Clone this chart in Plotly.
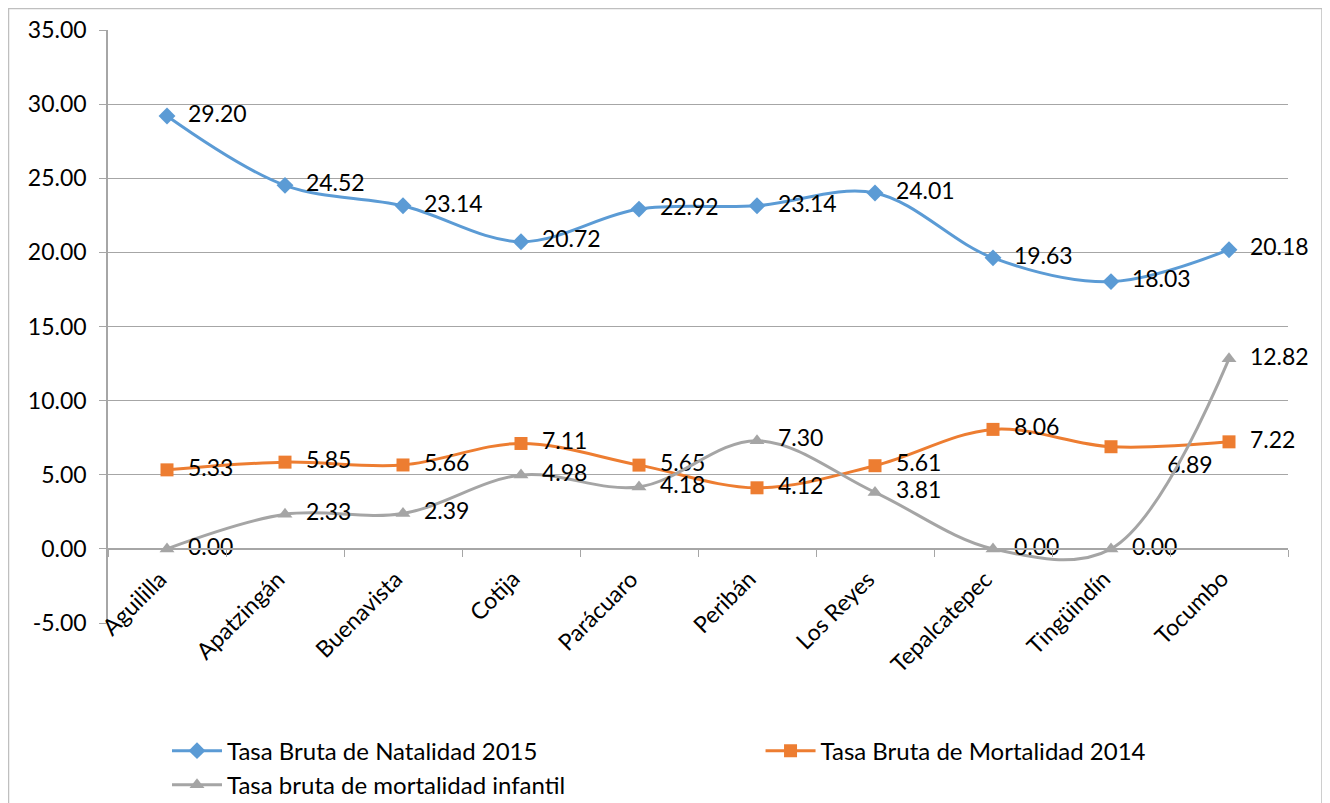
import plotly.graph_objects as go

municipios = ['Aguililla', 'Apatzingán', 'Buenavista', 'Cotija', 'Parácuaro',
              'Peribán', 'Los Reyes', 'Tepalcatepec', 'Tingüindín', 'Tocumbo']
natalidad = [29.20, 24.52, 23.14, 20.72, 22.92, 23.14, 24.01, 19.63, 18.03, 20.18]
mortalidad = [5.33, 5.85, 5.66, 7.11, 5.65, 4.12, 5.61, 8.06, 6.89, 7.22]
infantil = [0.00, 2.33, 2.39, 4.98, 4.18, 7.30, 3.81, 0.00, 0.00, 12.82]
y_ticks = [-5, 0, 5, 10, 15, 20, 25, 30, 35]
y_labels = ['-5.00', '0.00', '5.00', '10.00', '15.00', '20.00', '25.00', '30.00', '35.00']

FONT = 'Lato'
FS = 23
blue, orange, gray = '#5B9BD5', '#ED7D31', '#A5A5A5'

# the page body adds an 8px offset, so margins are shifted to compensate
L, T, W, H = 100, 22, 1180, 593

fig = go.Figure()

def serie(name, vals, color, symbol, legend, labels=None, positions=None):
    fig.add_trace(go.Scatter(
        x=municipios, y=vals, name=name, mode='lines+markers+text',
        line=dict(color=color, width=3, shape='spline', smoothing=1),
        marker=dict(symbol=symbol, size=13, color=color),
        text=labels or [f'  {v:.2f}' for v in vals],
        textposition=positions or 'middle right',
        textfont=dict(family=FONT, size=FS, color='black'),
        cliponaxis=False, legend=legend,
    ))

serie('Tasa Bruta de Natalidad 2015', natalidad, blue, 'diamond', 'legend')
lab_mort = [f'  {v:.2f}' for v in mortalidad]
lab_mort[8] = '        ' + f'{mortalidad[8]:.2f}'
pos_mort = ['middle right'] * len(mortalidad)
pos_mort[8] = 'bottom right'
serie('Tasa Bruta de Mortalidad 2014', mortalidad, orange, 'square', 'legend2',
      lab_mort, pos_mort)
serie('Tasa bruta de mortalidad infantil', infantil, gray, 'triangle-up', 'legend')

# category labels sit just under the zero line, rotated like Excel
for m in municipios:
    fig.add_annotation(x=m, y=0, xref='x', yref='y', text=m, showarrow=False,
                       textangle=-45, xanchor='right', yanchor='top',
                       xshift=7, yshift=-13,
                       font=dict(family=FONT, size=FS, color='black'))

# outer chart frame
fig.add_shape(type='rect', xref='paper', yref='paper',
              x0=(0.5 - L) / W, x1=(1314 - L) / W,
              y0=-(803 - T - H + 20) / H, y1=(T + H - 0.5) / H,
              line=dict(color='#BFBFBF', width=1.5), layer='below')

leg = dict(font=dict(family=FONT, size=24, color='black'), bgcolor='rgba(0,0,0,0)',
           itemwidth=50, yanchor='top', xanchor='left', tracegroupgap=0)
fig.update_layout(
    width=1330, height=803,
    margin=dict(l=L, r=1330 - L - W, t=T, b=803 - T - H, autoexpand=False),
    plot_bgcolor='white', paper_bgcolor='white',
    font=dict(family=FONT, size=FS, color='black'),
    showlegend=True,
    legend=dict(leg, x=0.05, y=-0.178),
    legend2=dict(leg, x=0.553, y=-0.178),
    xaxis=dict(type='category', range=[-0.5, 9.5], showgrid=False,
               showticklabels=False, showline=True, linecolor='#A6A6A6', linewidth=1.5,
               ticks='outside', tickson='boundaries', ticklen=7, tickcolor='#A6A6A6',
               anchor='free', position=0.125, zeroline=False),
    yaxis=dict(range=[-5, 35], tickvals=y_ticks, ticktext=y_labels,
               showgrid=True, gridcolor='#A6A6A6', gridwidth=1.2,
               zeroline=False, showline=True, linecolor='#A6A6A6', linewidth=1.5,
               ticks='outside', ticklen=7, tickcolor='#A6A6A6',
               ticklabelstandoff=8),
)

fig.write_html('out.html')
